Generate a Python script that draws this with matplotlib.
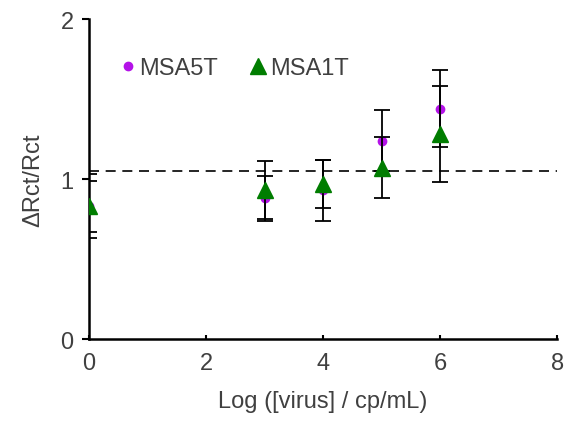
import matplotlib.pyplot as plt
from matplotlib.lines import Line2D

plt.rcParams['font.family'] = ['Liberation Sans', 'DejaVu Sans']

# Datos
log_virus = [0, 3, 4, 5, 6]
msa5t = [0.83, 0.88, 0.93, 1.24, 1.44]
msa5t_err = [0.20, 0.14, 0.19, 0.19, 0.24]
msa1t = [0.83, 0.93, 0.97, 1.07, 1.28]
msa1t_err = [0.16, 0.18, 0.15, 0.19, 0.30]
umbral = 1.05

color5 = '#B412E8'
color1 = '#007D00'
gris = '#404040'

fig = plt.figure(figsize=(5.65, 4.27), dpi=100)
ax = fig.add_axes([0.1575, 0.2037, 0.8285, 0.7493])

ax.axhline(umbral, color='black', linestyle=(0, (6, 4)), linewidth=1.2, zorder=1)

ax.errorbar(log_virus, msa5t, yerr=msa5t_err, fmt='o', color=color5,
            markersize=6, ecolor='black', elinewidth=1.3, capsize=6, capthick=1.3,
            zorder=3)
ax.errorbar(log_virus, msa1t, yerr=msa1t_err, fmt='^', color=color1,
            markersize=11, ecolor='black', elinewidth=1.3, capsize=6, capthick=1.3,
            zorder=4)

ax.set_xlim(0, 8)
ax.set_ylim(0, 2)
ax.set_xticks([0, 2, 4, 6, 8])
ax.set_yticks([0, 1, 2])
for s in ['top', 'right']:
    ax.spines[s].set_visible(False)
for s in ['left', 'bottom']:
    ax.spines[s].set_linewidth(1.8)
ax.tick_params(axis='x', direction='in', length=3, width=1.5, labelsize=17, pad=9,
               labelcolor=gris, color='black')
ax.tick_params(axis='y', direction='out', length=5, width=1.5, labelsize=17, pad=6,
               labelcolor=gris, color='black')
ax.set_xlabel('Log ([virus] / cp/mL)', fontsize=17, color=gris, labelpad=12)
ax.set_ylabel('ΔRct/Rct', fontsize=17, color=gris, labelpad=12)

handles = [Line2D([], [], marker='o', linestyle='none', color=color5, markersize=6),
           Line2D([], [], marker='^', linestyle='none', color=color1, markersize=11)]
ax.legend(handles, ['MSA5T', 'MSA1T'], loc='upper left', bbox_to_anchor=(0.012, 0.947),
          ncol=2, frameon=False, fontsize=17, handletextpad=0.0, columnspacing=1.2,
          handlelength=1.0, labelcolor=gris)

plt.savefig('out.png', dpi=100)
